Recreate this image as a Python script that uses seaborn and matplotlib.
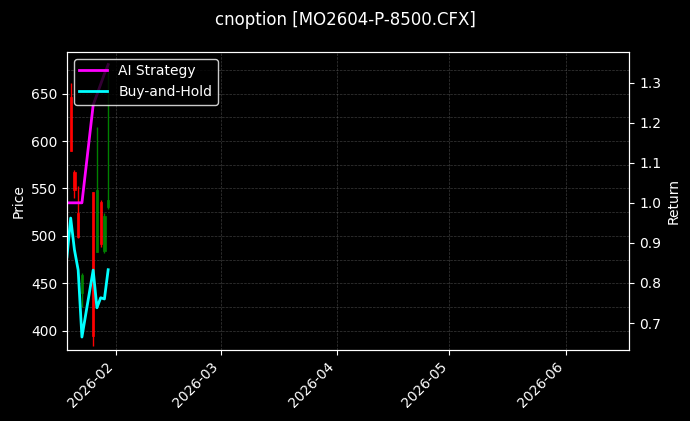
import pandas as pd
import matplotlib
matplotlib.use("Agg")
import matplotlib.pyplot as plt
import matplotlib.dates as mdates
from matplotlib.ticker import MultipleLocator
import seaborn as sns

# candles (daily OHLC)
candle_dates = ["2026-01-20", "2026-01-21", "2026-01-22", "2026-01-23",
                "2026-01-26", "2026-01-27", "2026-01-28", "2026-01-29", "2026-01-30"]
opens = [646, 567, 524, 440, 546, 483, 536, 484, 530]
highs = [661, 569, 553, 461, 546, 615, 538, 524, 682]
lows = [589, 540, 498, 425, 384, 483, 488, 482, 528]
closes = [590, 548, 499, 459, 395, 548, 492, 521, 538]

# return curves
ret_dates = ["2026-01-19", "2026-01-20", "2026-01-21", "2026-01-22", "2026-01-23",
             "2026-01-26", "2026-01-27", "2026-01-28", "2026-01-29", "2026-01-30"]
ai_strategy = [1.0, 1.0, 1.0, 1.0, 1.0, 1.244, 1.27, 1.296, 1.322, 1.345]
buy_hold = [0.865, 0.962, 0.883, 0.832, 0.665, 0.832, 0.738, 0.763, 0.760, 0.833]

plt.style.use("dark_background")

df = pd.DataFrame({"date": pd.to_datetime(candle_dates), "open": opens,
                   "high": highs, "low": lows, "close": closes})
ret = pd.DataFrame({"date": pd.to_datetime(ret_dates), "ai": ai_strategy, "bh": buy_hold})

fig, ax = plt.subplots(figsize=(6.9, 4.21), dpi=100)
fig.subplots_adjust(left=0.097, right=0.912, top=0.877, bottom=0.169)

up = df["close"] >= df["open"]
colors = ["green" if u else "red" for u in up]
ax.vlines(df["date"], df["low"], df["high"], colors=colors, linewidth=1)
ax.bar(df["date"], (df["close"] - df["open"]).abs(),
       bottom=df[["open", "close"]].min(axis=1), width=0.6, color=colors,
       edgecolor=colors, linewidth=0.5)

ax.set_ylim(380, 694)
ax.set_xlim(pd.Timestamp("2026-01-19"), pd.Timestamp("2026-06-18"))
ax.yaxis.set_minor_locator(MultipleLocator(25))
ax.tick_params(axis="y", which="minor", length=0)
ax.grid(True, which="both", axis="y", linestyle="--", linewidth=0.5, color="gray", alpha=0.45)
ax.grid(True, which="major", axis="x", linestyle="--", linewidth=0.5, color="gray", alpha=0.45)
ax.set_ylabel("Price")

ax.xaxis.set_major_locator(mdates.MonthLocator())
ax.xaxis.set_major_formatter(mdates.DateFormatter("%Y-%m"))
plt.setp(ax.get_xticklabels(), rotation=45, ha="right")

ax2 = ax.twinx()
sns.lineplot(data=ret, x="date", y="ai", ax=ax2, color="#ff00ff", linewidth=2, label="AI Strategy")
sns.lineplot(data=ret, x="date", y="bh", ax=ax2, color="#00ffff", linewidth=2, label="Buy-and-Hold")
ax2.set_ylim(0.633, 1.377)
ax2.set_ylabel("Return")
ax2.set_xlabel("")
ax2.legend(loc="upper left", facecolor="black", edgecolor="white", framealpha=0.8)

fig.suptitle("cnoption [MO2604-P-8500.CFX]", fontsize=12, y=0.975)
fig.savefig("out.png", dpi=100)
